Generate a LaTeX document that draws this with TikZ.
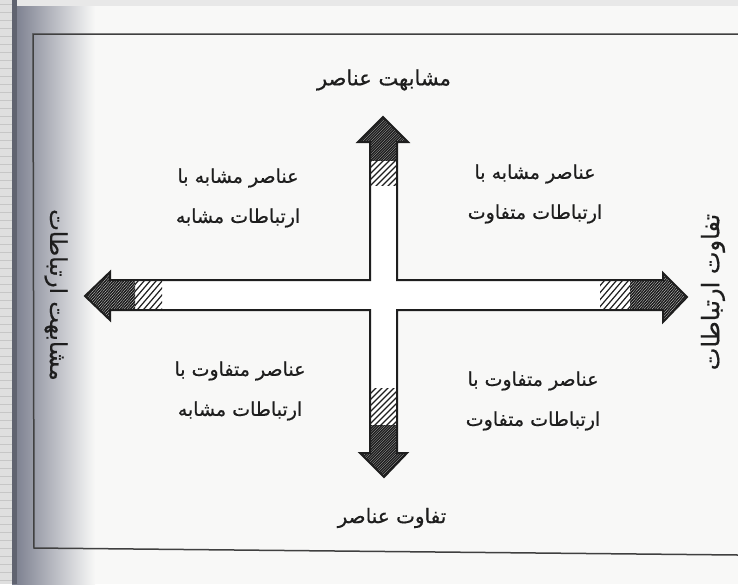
\documentclass[tikz,border=0pt]{standalone}
\usepackage{fontspec}
\newfontfamily\arabicfont[Script=Arabic, FakeBold=0.6]{DejaVu Sans}
\TeXXeTstate=1
\usetikzlibrary{positioning}
\definecolor{paper}{RGB}{248,248,247}
\definecolor{edge}{RGB}{120,124,140}
\definecolor{ink}{RGB}{30,30,30}
\newcommand{\fa}[1]{{\arabicfont\beginR #1\endR}}

\begin{document}
\begin{tikzpicture}[x=1pt, y=-1pt,
  lbl/.style={font=\arabicfont\fontsize{19}{22}\selectfont, text=ink, inner sep=1pt},
  cell/.style={lbl, align=center},
  sidelbl/.style={lbl, font=\arabicfont\fontsize{23}{26}\selectfont},
  outline/.style={draw=ink, line width=2pt, line join=miter},
  hatch/.style={ink, line width=1.5pt},
  thinhatch/.style={ink, line width=1.2pt}]
% page and scan edge
\useasboundingbox (0,0) rectangle (738,584);
\fill[paper] (0,0) rectangle (738,584);
\shade[left color=edge, right color=paper] (12,0) rectangle (95,584);
\fill[gray!25] (0,0) rectangle (12,584);
\foreach \y in {4,12,...,584} \draw[gray!45, line width=0.6pt] (0,\y) -- (12,\y);
\fill[edge!80!black] (12,0) rectangle (17,584);
\fill[gray!18] (17,0) rectangle (738,6);
% frame
\draw[ink!85, line width=1.5pt] (738,34) -- (33,34) -- (34,548) -- (738,555);
% cross outline
\path (383,117) coordinate (ntip) (384,477) coordinate (stip)
      (85,296) coordinate (wtip) (687,297) coordinate (etip);
\def\crosspath{(ntip) -- (408,142) -- (397,142) -- (397,280) -- (663,280) -- (663,273)
  -- (etip) -- (663,322) -- (663,310) -- (397,310) -- (397,453) -- (407,453)
  -- (stip) -- (360,453) -- (370,453) -- (370,310) -- (110,310) -- (110,320)
  -- (wtip) -- (110,272) -- (110,280) -- (370,280) -- (370,142) -- (358,142) -- cycle}
\fill[white] \crosspath;
% hatching near the tips
\begin{scope}
  \clip \crosspath;
  \begin{scope}
    \clip (350,110) rectangle (420,160);
    \foreach \k in {0,2.6,...,140} \draw[hatch] (330,\k+100) -- (430,\k);
  \end{scope}
  \begin{scope}
    \clip (350,160) rectangle (420,185);
    \foreach \k in {0,6,...,140} \draw[thinhatch] (330,\k+130) -- (430,\k+30);
  \end{scope}
  \begin{scope}
    \clip (350,425) rectangle (420,480);
    \foreach \k in {0,2.6,...,160} \draw[hatch] (330,\k+420) -- (430,\k+320);
  \end{scope}
  \begin{scope}
    \clip (350,388) rectangle (420,425);
    \foreach \k in {0,6,...,160} \draw[thinhatch] (330,\k+380) -- (430,\k+280);
  \end{scope}
  \begin{scope}
    \clip (80,265) rectangle (135,325);
    \foreach \k in {0,2.6,...,160} \draw[hatch] (\k+40,330) -- (\k+100,260);
  \end{scope}
  \begin{scope}
    \clip (135,265) rectangle (162,325);
    \foreach \k in {0,6,...,160} \draw[thinhatch] (\k+60,330) -- (\k+120,260);
  \end{scope}
  \begin{scope}
    \clip (630,265) rectangle (695,325);
    \foreach \k in {0,2.6,...,160} \draw[hatch] (\k+560,330) -- (\k+620,260);
  \end{scope}
  \begin{scope}
    \clip (600,265) rectangle (630,325);
    \foreach \k in {0,6,...,160} \draw[thinhatch] (\k+520,330) -- (\k+580,260);
  \end{scope}
\end{scope}
\draw[outline] \crosspath;
% axis labels
\node[lbl, font=\arabicfont\fontsize{21}{24}\selectfont] (simel) at (384,80) {\fa{مشابهت عناصر}};
\node[lbl, font=\arabicfont\fontsize{20}{24}\selectfont] (difel) at (392,518) {\fa{تفاوت عناصر}};
\node[sidelbl, rotate=-90] (simrel) at (56,295) {\fa{مشابهت ارتباطات}};
\node[sidelbl, font=\arabicfont\fontsize{24}{27}\selectfont, rotate=90] (difrel) at (713,292) {\fa{تفاوت ارتباطات}};
% quadrant labels
\node[cell] (ss) at (238,198) {\fa{عناصر مشابه با}\\[18pt]\fa{ارتباطات مشابه}};
\node[cell] (sd) at (535,194) {\fa{عناصر مشابه با}\\[18pt]\fa{ارتباطات متفاوت}};
\node[cell] (ds) at (240,391) {\fa{عناصر متفاوت با}\\[18pt]\fa{ارتباطات مشابه}};
\node[cell] (dd) at (533,401) {\fa{عناصر متفاوت با}\\[18pt]\fa{ارتباطات متفاوت}};
\end{tikzpicture}
\end{document}
